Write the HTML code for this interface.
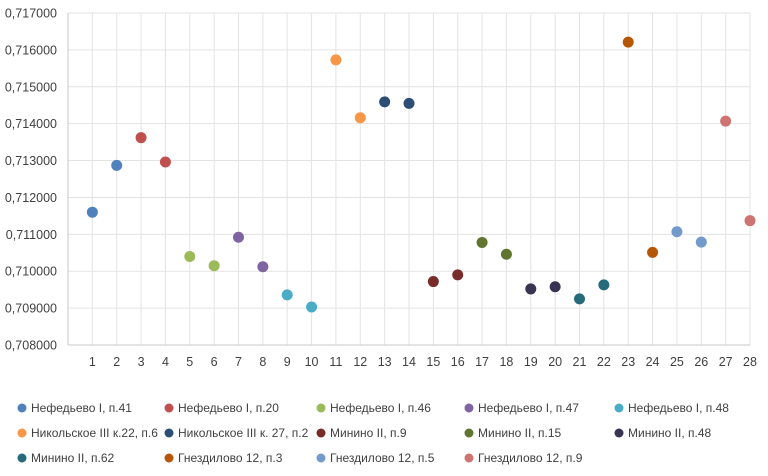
<!DOCTYPE html>
<html><head><meta charset="utf-8"><style>
body{margin:0;background:#fff;font-family:"Liberation Sans",sans-serif;}
svg text{font-family:"Liberation Sans","DejaVu Sans",sans-serif;fill:#404040;}
</style></head><body>
<svg id="chart" width="768" height="471" xmlns="http://www.w3.org/2000/svg">
<g id="grid"></g>
<g id="yaxis"></g>
<g id="xaxis"></g>
<g id="points"></g>
<g id="legend"></g>
</svg>
<script>
const seriesNames=["Нефедьево I, п.41","Нефедьево I, п.20","Нефедьево I, п.46","Нефедьево I, п.47","Нефедьево I, п.48","Никольское III к.22, п.6","Никольское III к. 27, п.2","Минино II, п.9","Минино II, п.15","Минино II, п.48","Минино II, п.62","Гнездилово 12, п.3","Гнездилово 12, п.5","Гнездилово 12, п.9"];
const seriesColors=["#4F81BD","#C0504D","#9BBB59","#8064A2","#4BACC6","#F79646","#2C4D75","#772C2A","#5F7530","#3A3453","#276A7C","#B65708","#729ACA","#CD7371"];
const seriesX=[[1,2],[3,4],[5,6],[7,8],[9,10],[11,12],[13,14],[15,16],[17,18],[19,20],[21,22],[23,24],[25,26],[27,28]];
const seriesY=[[0.71160,0.71287],[0.71362,0.71296],[0.71040,0.71015],[0.71092,0.71012],[0.70936,0.70903],[0.71573,0.71416],[0.71459,0.71455],[0.70972,0.70990],[0.71078,0.71046],[0.70952,0.70958],[0.70925,0.70963],[0.71621,0.71051],[0.71107,0.71079],[0.71407,0.71137]];
const yTicks=[0.708,0.709,0.710,0.711,0.712,0.713,0.714,0.715,0.716,0.717];
const xTicks=[1,2,3,4,5,6,7,8,9,10,11,12,13,14,15,16,17,18,19,20,21,22,23,24,25,26,27,28];

const NS="http://www.w3.org/2000/svg";
const L=68,R=750,T=13,B=345;
const yMin=0.708,yMax=0.717,xMin=0,xMax=28;
const xs=c=>L+(c-xMin)/(xMax-xMin)*(R-L);
const ys=v=>B-(v-yMin)/(yMax-yMin)*(B-T);
function mk(tag,attrs,parent){const e=document.createElementNS(NS,tag);for(const k in attrs)e.setAttribute(k,attrs[k]);parent.appendChild(e);return e;}
const grid=document.getElementById('grid'),ya=document.getElementById('yaxis'),xa=document.getElementById('xaxis'),pts=document.getElementById('points'),lg=document.getElementById('legend');
xTicks.forEach(c=>{
  const x=xs(c);
  const g=mk('line',{x1:x,x2:x,y1:T,y2:B,stroke:'#e3e3e3','stroke-width':1},grid);
  
  
  const tx=mk('text',{x:x,y:366,'text-anchor':'middle','font-size':12.5},xa);
  tx.textContent=c;
  
  
});
yTicks.forEach(t=>{
  const y=ys(t);
  const g=mk('line',{x1:L,x2:R,y1:y,y2:y,stroke:t===yMin?'#c8c8c8':'#e3e3e3','stroke-width':1},grid);
  
  
  const tx=mk('text',{x:57,y:y+4.5,'text-anchor':'end','font-size':12.5},ya);
  tx.textContent=t.toFixed(6).replace('.',',');
  
  
});
const ax=mk('line',{x1:L,x2:L,y1:T,y2:B,stroke:'#c8c8c8','stroke-width':1},grid);


seriesX.forEach((arr,i)=>{
  arr.forEach((c,j)=>{
    const p=mk('circle',{cx:xs(c),cy:ys(seriesY[i][j]),r:5.5,fill:seriesColors[i]},pts);
    
    
  });
});
const colX=[16,163,315,463,613],rowY=[408,433,458];
seriesNames.forEach((n,i)=>{
  const x=colX[i%5],y=rowY[Math.floor(i/5)];
  const g=mk('g',{},lg);
  
  
  mk('circle',{cx:x+6,cy:y,r:4.5,fill:seriesColors[i]},g);
  const t=mk('text',{x:x+15,y:y+4,'font-size':12},g);
  t.textContent=n;
});
</script>
</body></html>
